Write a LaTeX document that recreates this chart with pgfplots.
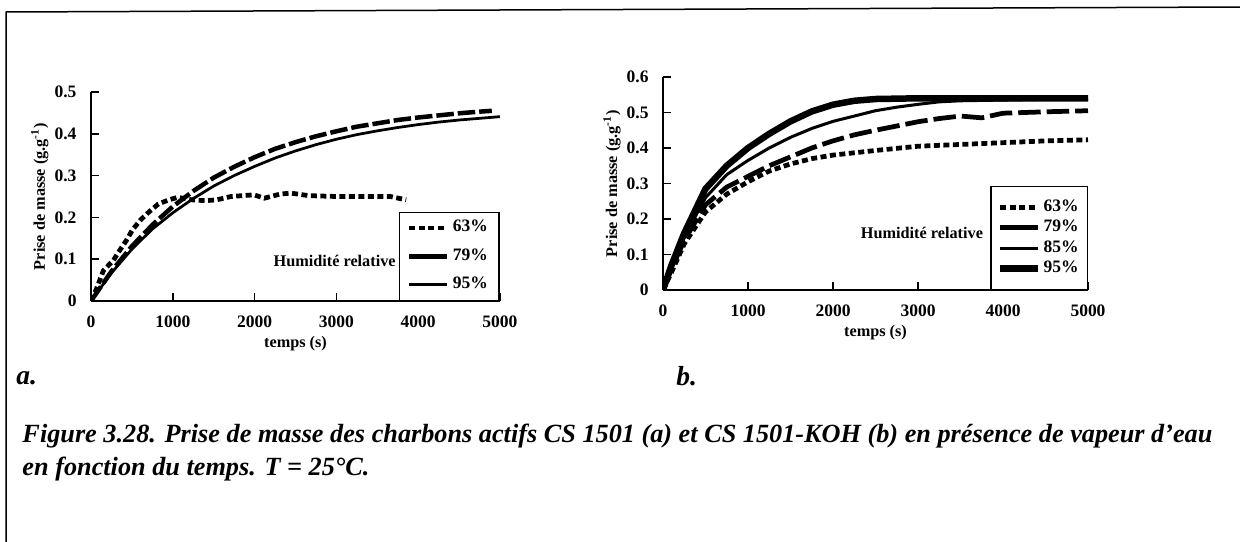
\documentclass[border=0pt]{standalone}
\usepackage{fontspec}
\setmainfont{Liberation Serif}
\usepackage{pgfplots}
\pgfplotsset{compat=1.18}

% 1 px of the 1240x542 reference = 0.4pt
\pgfplotsset{
  charbon/.style={
    scale only axis,
    axis lines=left,
    axis line style={-, line width=1.1pt},
    tick align=inside,
    major tick length=3.2pt,
    tick style={line width=0.7pt, black},
    xmin=0, xmax=5000, ymin=0,
    xtick={0,1000,2000,3000,4000,5000},
    /pgf/number format/.cd, 1000 sep={}, assume math mode=true, /pgfplots/.cd,
    ticklabel style={font=\fontsize{7}{8}\selectfont\bfseries, inner sep=0pt},
    xticklabel style={yshift=-5.6pt},
    yticklabel style={xshift=-5.6pt},
    label style={font=\fontsize{6.5}{7}\selectfont\bfseries},
    xlabel={temps (s)},
    ylabel={Prise de masse (g.g\textsuperscript{-1})},
    xlabel style={at={(axis description cs:0.5,0)}, anchor=center, yshift=-17pt},
    ylabel style={at={(axis description cs:0,0.5)}, anchor=center, rotate=0},
    legend style={at={(1,0)}, anchor=south east, draw=black, line width=0.6pt,
      font=\fontsize{7}{8}\selectfont\bfseries, cells={anchor=west}},
    legend image code/.code={\draw[#1] (0pt,0pt) -- (15pt,0pt);},
  },
  h63/.style={black, line width=1.9pt, dash pattern=on 2.4pt off 1.4pt},
}

\begin{document}
\begin{tikzpicture}
\path[use as bounding box] (0,0) rectangle (496pt,-216.8pt);
\draw[line width=0.6pt] (2.4pt,-216.8pt) -- (2.4pt,-4.8pt) -- (496pt,-2.8pt);

% ---- a : CS 1501
\begin{axis}[charbon,
  at={(36.4pt,-120.4pt)}, anchor=south west,
  width=163.6pt, height=83.6pt,
  ymax=0.5, ytick={0,0.1,0.2,0.3,0.4,0.5},
  ylabel style={at={(axis description cs:-0.125,0.5)}},
  legend style={inner xsep=3pt, inner ysep=1.6pt, row sep=2.2pt, nodes={inner sep=1.5pt}},
]
\addlegendimage{h63}
\addlegendimage{black, line width=1.9pt}
\addlegendimage{black, line width=1.1pt}

\addplot[h63, forget plot] coordinates {
 (0,0) (65,0.028) (152,0.073) (273,0.097) (347,0.12) (433,0.145) (506,0.17)
 (606,0.194) (714,0.214) (823,0.232) (952,0.242) (1060,0.248) (1234,0.242)
 (1400,0.24) (1537,0.242) (1710,0.25) (1991,0.254) (2120,0.246) (2316,0.256)
 (2446,0.258) (2662,0.252) (3000,0.25) (3300,0.25) (3658,0.25) (3853,0.242)
};
\addplot[black, line width=1.8pt, dash pattern=on 7pt off 1.6pt, forget plot] coordinates {
 (0,0) (250,0.071) (500,0.131) (750,0.182) (1000,0.226) (1250,0.263)
 (1500,0.295) (1750,0.321) (2000,0.344) (2250,0.364) (2500,0.380)
 (2750,0.394) (3000,0.406) (3250,0.417) (3500,0.425) (3750,0.433)
 (4000,0.439) (4250,0.444) (4500,0.449) (4750,0.453) (4900,0.455)
};
\addplot[black, line width=1.1pt, forget plot] coordinates {
 (0,0) (250,0.067) (500,0.124) (750,0.172) (1000,0.211) (1250,0.245)
 (1500,0.275) (1750,0.300) (2000,0.322) (2250,0.342) (2500,0.359)
 (2750,0.374) (3000,0.387) (3250,0.398) (3500,0.407) (3750,0.415)
 (4000,0.422) (4250,0.428) (4500,0.433) (4750,0.437) (5000,0.441)
};
\legend{63\%,79\%,95\%}
\node[anchor=east, font=\fontsize{6.5}{7}\selectfont\bfseries, inner sep=0pt]
  at (axis cs:3730,0.097) {Humidité relative};
\end{axis}

% ---- b : CS 1501-KOH
\begin{axis}[charbon,
  at={(265.2pt,-116pt)}, anchor=south west,
  width=170pt, height=85.2pt,
  ymax=0.6, ytick={0,0.1,0.2,0.3,0.4,0.5,0.6},
  ylabel style={at={(axis description cs:-0.12,0.5)}},
  legend style={inner xsep=2.5pt, inner ysep=4.2pt, row sep=0pt, nodes={inner sep=1pt}},
]
\addlegendimage{h63}
\addlegendimage{black, line width=1.9pt}
\addlegendimage{black, line width=1.2pt}
\addlegendimage{black, line width=2.6pt}

\addplot[h63, forget plot] coordinates {
 (0,0) (100,0.05) (250,0.13) (500,0.22) (750,0.27) (1000,0.305) (1250,0.335)
 (1500,0.355) (1750,0.37) (2000,0.38) (2500,0.393) (3000,0.405) (3500,0.41)
 (4000,0.415) (4500,0.42) (5000,0.423)
};
\addplot[black, line width=1.9pt, dash pattern=on 9pt off 2.4pt, forget plot] coordinates {
 (0,0) (100,0.06) (250,0.14) (500,0.24) (750,0.29) (1000,0.32) (1250,0.35)
 (1500,0.375) (1750,0.4) (2000,0.42) (2250,0.437) (2500,0.45) (2750,0.462)
 (3000,0.474) (3250,0.483) (3500,0.49) (3750,0.485) (4000,0.498) (4500,0.502)
 (5000,0.505)
};
\addplot[black, line width=1.2pt, forget plot] coordinates {
 (0,0) (100,0.065) (250,0.15) (500,0.26) (750,0.325) (1000,0.365) (1250,0.4)
 (1500,0.43) (1750,0.455) (2000,0.475) (2250,0.49) (2500,0.505) (2750,0.515)
 (3000,0.523) (3250,0.53) (3500,0.533) (4000,0.535) (4500,0.537) (5000,0.537)
};
\addplot[black, line width=2.6pt, forget plot] coordinates {
 (0,0) (100,0.07) (250,0.16) (500,0.285) (750,0.35) (1000,0.4) (1250,0.44)
 (1500,0.475) (1750,0.503) (2000,0.522) (2250,0.533) (2500,0.538) (3000,0.54)
 (3500,0.54) (4000,0.54) (4500,0.54) (5000,0.54)
};
\legend{63\%,79\%,85\%,95\%}
\node[anchor=east, font=\fontsize{6.5}{7}\selectfont\bfseries, inner sep=0pt]
  at (axis cs:3770,0.16) {Humidité relative};
\end{axis}

\node[anchor=west, font=\fontsize{11}{12}\selectfont\bfseries\itshape]
  at (3pt,-151.2pt) {a.};
\node[anchor=west, font=\fontsize{11}{12}\selectfont\bfseries\itshape]
  at (267pt,-150.4pt) {b.};
\node[anchor=base west, inner sep=0pt, font=\fontsize{10.5}{12}\selectfont\bfseries\itshape]
  at (8.8pt,-176.8pt) {Figure 3.28. Prise de masse des charbons actifs CS 1501 (a) et CS 1501-KOH (b) en présence de vapeur d'eau};
\node[anchor=base west, inner sep=0pt, font=\fontsize{10.5}{12}\selectfont\bfseries\itshape]
  at (8.8pt,-190pt) {en fonction du temps. T = 25°C.};
\end{tikzpicture}
\end{document}
